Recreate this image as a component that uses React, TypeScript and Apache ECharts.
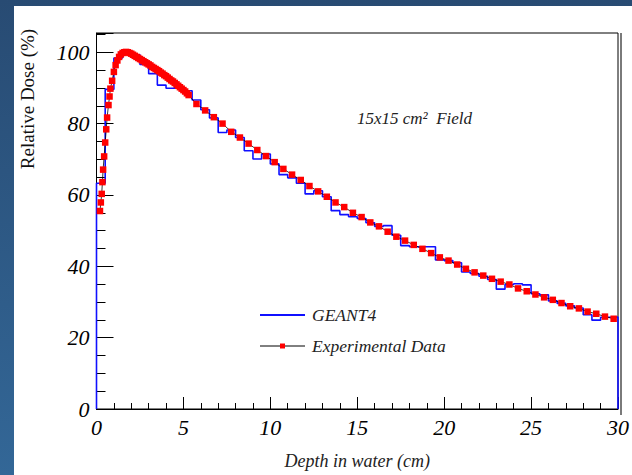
import { useEffect, useRef } from "react";
import * as echarts from "echarts";

// Experimental depth-dose points (depth cm, relative dose %)
const expDepth = [
  0.2, 0.25, 0.3, 0.34, 0.38, 0.44, 0.5, 0.56, 0.61, 0.69, 0.75, 0.8,
  0.9, 1.0, 1.1, 1.2, 1.3, 1.4, 1.5, 1.6, 1.7, 1.8, 1.9, 2.0, 2.1, 2.2, 2.3, 2.4,
  2.5, 2.6, 2.7, 2.8, 2.9, 3.0, 3.1, 3.2, 3.3, 3.4, 3.5, 3.6, 3.7, 3.8, 3.9, 4.0,
  4.1, 4.2, 4.3, 4.4, 4.5, 4.6, 4.7, 4.8, 4.9, 5.0, 5.1, 5.2, 5.3,
  5.75, 6.25, 6.75, 7.25, 7.75, 8.25, 8.75, 9.25, 9.75, 10.25, 10.75, 11.25, 11.75,
  12.25, 12.75, 13.25, 13.75, 14.25, 14.75, 15.25, 15.75, 16.25, 16.75, 17.25, 17.75,
  18.25, 18.75, 19.25, 19.75, 20.25, 20.75, 21.25, 21.75, 22.25, 22.75, 23.25, 23.75,
  24.25, 24.75, 25.25, 25.75, 26.25, 26.75, 27.25, 27.75, 28.25, 28.75, 29.25, 29.75,
];
const expDose = [
  55.5, 57.9, 60.3, 63.6, 67.1, 70.8, 74.7, 78.4, 81.7, 85.2, 87.6, 89.8,
  92.0, 94.5, 96.4, 97.7, 98.7, 99.4, 99.8, 100.0, 100.1, 100.0, 99.8, 99.6, 99.3, 99.0, 98.7, 98.4,
  98.1, 97.8, 97.5, 97.2, 96.9, 96.6, 96.3, 95.9, 95.6, 95.3, 95.0, 94.7, 94.3, 94.0, 93.6, 93.3,
  92.9, 92.5, 92.1, 91.8, 91.4, 91.0, 90.6, 90.2, 89.8, 89.4, 89.0, 88.5, 88.0,
  85.5, 83.7, 81.8, 80.0, 77.7, 76.1, 74.4, 72.6, 70.9, 69.2, 67.3, 65.7, 64.2,
  62.5, 61.0, 59.5, 57.9, 56.6, 55.0, 53.8, 52.3, 51.2, 49.7, 48.3, 47.2,
  46.0, 44.9, 43.7, 42.5, 41.6, 40.5, 39.3, 38.3, 37.4, 36.5, 35.7, 34.9,
  33.8, 33.0, 32.1, 31.3, 30.6, 29.7, 28.8, 28.2, 27.3, 26.7, 25.9, 25.3,
];

// GEANT4 histogram (bins of 0.5 cm starting at 0)
const geantStart = 0;
const geantBinWidth = 0.5;
const geantDose = [
  63.3, 89.6, 98.4, 100.2, 99.3, 96.6, 94.0, 90.8, 89.9, 90.3,
  89.2, 86.6, 83.9, 81.6, 77.5, 78.2, 76.1, 72.4, 70.1, 71.5,
  68.7, 65.7, 64.8, 63.3, 60.3, 61.2, 59.5, 55.6, 54.5, 53.9,
  53.4, 52.2, 51.2, 51.4, 48.7, 45.8, 45.5, 45.5, 45.5, 41.8,
  41.6, 41.0, 38.4, 38.0, 37.2, 36.3, 33.6, 34.9, 35.1, 34.8,
  32.3, 32.0, 30.3, 29.6, 28.9, 28.3, 26.4, 24.9, 25.7, 25.8,
];

const seriesNames = ["GEANT4", "Experimental Data"];
const xMin = 0;
const xMax = 30;
const xInterval = 5;
const yMin = 0;
const yMax = 105.4;
const yInterval = 20;

const serif = '"Liberation Serif", "DejaVu Serif", serif';

export default function App() {
  const ref = useRef<HTMLDivElement>(null);
  useEffect(() => {
    const chart = echarts.init(ref.current!, null, { renderer: "svg" });
    const expData = expDepth.map((x, i) => [x, expDose[i]]);
    const geantData: number[][] = [[geantStart, 0]];
    geantDose.forEach((v, i) => geantData.push([geantStart + i * geantBinWidth, v]));
    const endX = geantStart + geantDose.length * geantBinWidth;
    geantData.push([endX, geantDose[geantDose.length - 1]]);
    geantData.push([endX, 0]);

    const legendText = (y: number, text: string) => ({
      type: "text",
      x: 312,
      y,
      style: {
        text,
        font: `italic 17.5px ${serif}`,
        fill: "#222",
        align: "left",
        verticalAlign: "middle",
      },
    });

    chart.setOption({
      animation: false,
      backgroundColor: "transparent",
      grid: {
        left: 96.5,
        right: 11.5,
        top: 33,
        bottom: 60,
        show: true,
        borderColor: "#000",
        borderWidth: 1,
        backgroundColor: "transparent",
      },
      xAxis: {
        type: "value",
        min: xMin,
        max: xMax,
        interval: xInterval,
        axisLine: { show: true, onZero: false, lineStyle: { color: "#000", width: 1 } },
        axisTick: { show: true, inside: true, length: 12, lineStyle: { color: "#000" } },
        minorTick: { show: true, splitNumber: 5, length: 6, lineStyle: { color: "#000" } },
        splitLine: { show: false },
        axisLabel: {
          margin: 7,
          fontFamily: serif,
          fontStyle: "italic",
          fontSize: 22,
          color: "#000",
        },
        name: "Depth in water (cm)",
        nameLocation: "middle",
        nameGap: 43,
        nameTextStyle: { fontFamily: serif, fontStyle: "italic", fontSize: 18, color: "#222" },
      },
      yAxis: {
        type: "value",
        min: yMin,
        max: yMax,
        interval: yInterval,
        axisLine: { show: true, onZero: false, lineStyle: { color: "#000", width: 1 } },
        axisTick: { show: true, inside: true, length: 17, lineStyle: { color: "#000" } },
        minorTick: { show: true, splitNumber: 4, length: 9, lineStyle: { color: "#000" } },
        splitLine: { show: false },
        axisLabel: {
          margin: 7,
          showMaxLabel: false,
          fontFamily: serif,
          fontStyle: "italic",
          fontSize: 22,
          color: "#000",
        },
      },
      graphic: [
        {
          type: "line",
          shape: { x1: 621, y1: 33, x2: 621, y2: 415 },
          style: { stroke: "#7a7a7a", lineWidth: 2 },
          z: 0,
        },
        {
          type: "text",
          x: 27,
          y: 99,
          rotation: Math.PI / 2,
          style: {
            text: "Relative Dose (%)",
            font: `19px ${serif}`,
            fill: "#111",
            align: "center",
            verticalAlign: "middle",
          },
        },
        {
          type: "text",
          x: 357,
          y: 118,
          style: {
            text: "15x15 cm²  Field",
            font: `italic 17px ${serif}`,
            fill: "#222",
            align: "left",
            verticalAlign: "middle",
          },
        },
        // legend
        {
          type: "line",
          shape: { x1: 260, y1: 315, x2: 305, y2: 315 },
          style: { stroke: "#1010ff", lineWidth: 2 },
        },
        legendText(315, seriesNames[0]),
        {
          type: "line",
          shape: { x1: 260, y1: 346, x2: 305, y2: 346 },
          style: { stroke: "#000", lineWidth: 1 },
        },
        {
          type: "rect",
          shape: { x: 280, y: 343.5, width: 5, height: 5 },
          style: { fill: "#ff0000" },
        },
        legendText(346, seriesNames[1]),
      ],
      series: [
        {
          name: seriesNames[0],
          type: "line",
          step: "end",
          data: geantData,
          showSymbol: false,
          symbol: "none",
          lineStyle: { color: "#1010ff", width: 1.6 },
          itemStyle: { color: "#1010ff" },
          z: 2,
        },
        {
          name: seriesNames[1],
          type: "line",
          data: expData,
          symbol: "rect",
          symbolSize: 6.5,
          showAllSymbol: true,
          lineStyle: { color: "#000", width: 0.8 },
          itemStyle: { color: "#ff0000" },
          z: 3,
        },
      ],
    });
    return () => chart.dispose();
  }, []);

  return (
    <div
      style={{
        position: "fixed",
        left: 0,
        top: 0,
        width: 632,
        height: 475,
        background: "linear-gradient(to bottom, #284b73, #336797)",
        overflow: "hidden",
      }}
    >
      <div
        style={{ position: "absolute", left: 14, top: 6, right: 0, bottom: 0, background: "#fff" }}
      />
      <div ref={ref} style={{ position: "absolute", left: 0, top: 0, width: 632, height: 475 }} />
    </div>
  );
}
